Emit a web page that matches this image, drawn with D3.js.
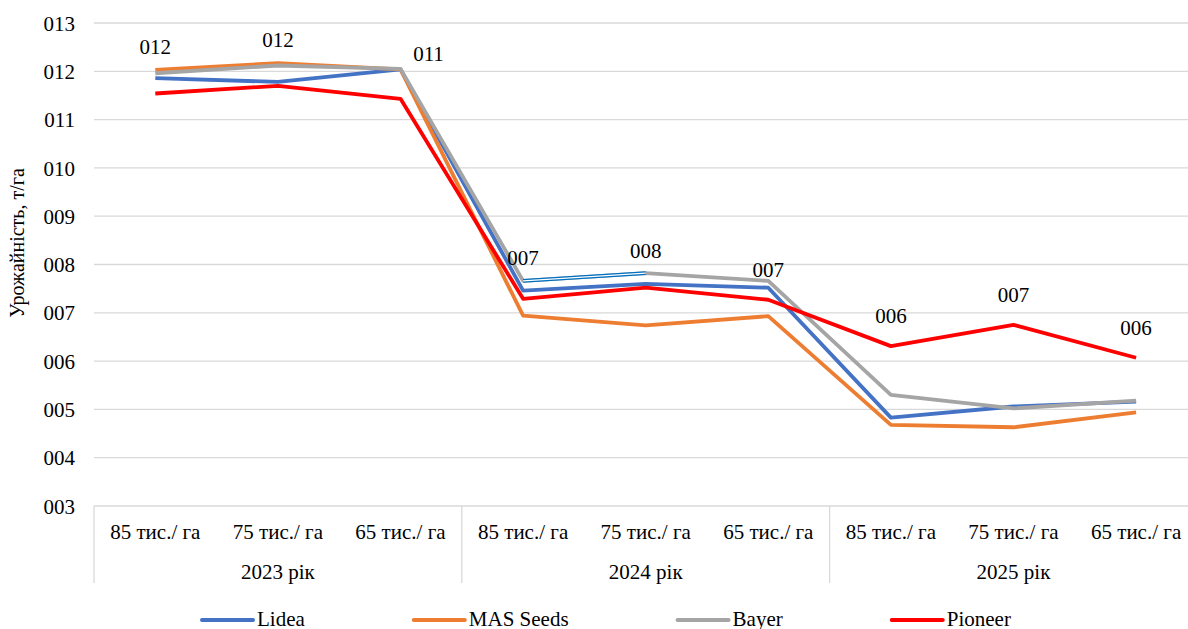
<!DOCTYPE html>
<html><head><meta charset="utf-8">
<script src="https://cdn.jsdelivr.net/npm/d3@7"></script>
<style>
html,body{margin:0;padding:0;background:#fff;}
</style></head>
<body><svg id="c" width="1188" height="629"></svg>
<script>
const densities = ["85 тис./ га","75 тис./ га","65 тис./ га","85 тис./ га","75 тис./ га","65 тис./ га","85 тис./ га","75 тис./ га","65 тис./ га"];
const years = ["2023 рік","2024 рік","2025 рік"];
const seriesNames = ["Lidea","MAS Seeds","Bayer","Pioneer"];
const lidea    = [11.86,11.78,12.04, 7.46,7.60,7.52, 4.83,5.06,5.16];
const masSeeds = [12.03,12.17,12.04, 6.94,6.74,6.93, 4.68,4.63,4.94];
const bayer    = [11.96,12.12,12.05, 7.66,7.82,7.66, 5.30,5.02,5.18];
const pioneer  = [11.54,11.70,11.43, 7.29,7.52,7.27, 6.31,6.75,6.07];
const yTicks = [3,4,5,6,7,8,9,10,11,12,13];
const colors = ["#4472C4","#ED7D31","#A5A5A5","#FF0000"];
const series = [lidea, masSeeds, bayer, pioneer];

const FONT = "Liberation Serif";
const svg = d3.select("#c");
const pLeft = 94, pTop = 23, pBottom = 506, catW = 122.6;
const pRight = pLeft + catW * densities.length;
const fmt = d3.format("03d");

const x = d3.scaleBand().domain(d3.range(densities.length)).range([pLeft, pRight]).padding(0);
const cx = i => x(i) + x.bandwidth()/2;
const y = d3.scaleLinear().domain([3,13]).range([pBottom, pTop]);

function txt(sel, size) {
  return sel.attr("font-family", FONT).style("font-family", FONT, "important")
    .attr("font-size", size).style("font-size", size + "px", "important").attr("fill", "#000");
}

svg.append("g").selectAll("line").data(yTicks.filter(t=>t>3)).join("line")
  .attr("x1", pLeft).attr("x2", pRight).attr("y1", d=>y(d)).attr("y2", d=>y(d))
  .attr("stroke", "#D9D9D9").attr("stroke-width", 1.3);

const yAxis = d3.axisLeft(y).tickValues(yTicks).tickFormat(d=>fmt(d)).tickSize(0).tickPadding(0);
const gy = svg.append("g").attr("transform", `translate(${pLeft-19},0)`).call(yAxis);
gy.select(".domain").remove();
gy.attr("font-family", FONT);
txt(gy.selectAll("text"), 21).attr("dy","0.34em");

txt(svg.append("text").attr("transform", `translate(24,243) rotate(-90)`)
  .attr("text-anchor","middle"), 20).text("Урожайність, т/га");

const ax = svg.append("g");
ax.append("line").attr("x1", pLeft).attr("x2", pRight).attr("y1", pBottom).attr("y2", pBottom)
  .attr("stroke", "#D9D9D9").attr("stroke-width", 1.3);
[0,3,6,9].forEach(i=>{
  const xx = i===9 ? pRight : x(i);
  ax.append("line").attr("x1", xx).attr("x2", xx).attr("y1", pBottom).attr("y2", 583)
    .attr("stroke", "#D9D9D9").attr("stroke-width", 1.3);
});
txt(ax.selectAll("text.cat").data(densities).join("text").attr("class","cat")
  .attr("x", (d,i)=>cx(i)).attr("y", 539).attr("text-anchor","middle"), 21).text(d=>d);
txt(ax.selectAll("text.yr").data(years).join("text").attr("class","yr")
  .attr("x", (d,i)=>(x(i*3) + x(i*3+2) + x.bandwidth())/2).attr("y", 579)
  .attr("text-anchor","middle"), 21).text(d=>d);

const line = d3.line().x((d,i)=>cx(i)).y(d=>y(d));
series.forEach((s,k)=>{
  svg.append("path").datum(s).attr("d", line).attr("fill","none")
    .attr("stroke", colors[k]).attr("stroke-width", 3.8).attr("stroke-linejoin","round");
  if (k === 2) {
    const seg = [3,4];
    const segLine = d3.line().x(i=>cx(i)).y(i=>y(s[i]));
    svg.append("path").datum(seg).attr("d", segLine).attr("fill","none").attr("stroke","#0070C0").attr("stroke-width",3.8);
    svg.append("path").datum(seg).attr("d", segLine).attr("fill","none").attr("stroke","#fff").attr("stroke-width",1.2);
  }
});

const labelNudge = {2:{dx:28, dy:8}, 5:{dx:0, dy:12}};
txt(svg.append("g").selectAll("text").data(pioneer).join("text")
  .attr("x", (d,i)=>cx(i) + (labelNudge[i]?labelNudge[i].dx:0))
  .attr("y", (d,i)=>{
    const mx = d3.max(series, s=>s[i]);
    const yy = Math.min(y(d)-30, y(mx)-23);
    return yy + (labelNudge[i]?labelNudge[i].dy:0);
  })
  .attr("dy","0.35em").attr("text-anchor","middle"), 21)
  .text(d=>fmt(Math.round(d)));

const lg = svg.append("g");
let lx = 200;
seriesNames.forEach((n,k)=>{
  lg.append("line").attr("x1", lx+2).attr("x2", lx+53).attr("y1", 620).attr("y2", 620)
    .attr("stroke", colors[k]).attr("stroke-width", 4).attr("stroke-linecap","round");
  const t = txt(lg.append("text").attr("x", lx+57).attr("y", 626), 21).text(n);
  lx += t.node().getComputedTextLength() + 164;
});
</script></body></html>
